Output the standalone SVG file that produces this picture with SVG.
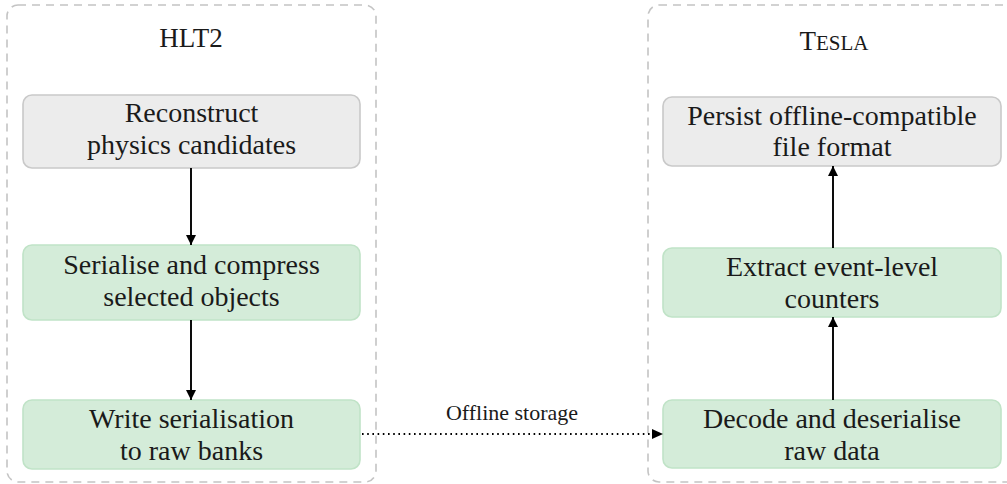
<svg xmlns="http://www.w3.org/2000/svg" width="1007" height="484" viewBox="0 0 1007 484">
<style>
.cont{fill:none;stroke:#c4c4c4;stroke-width:1.6;stroke-dasharray:8 6}
.gray{fill:#ececec;stroke:#c9c9c9;stroke-width:1.6}
.green{fill:#d4ecd9;stroke:#c0e3c7;stroke-width:1.6}
text{font-family:"Liberation Serif","Times New Roman",serif;fill:#1a1a1a;text-anchor:middle}
.t{font-size:28px}
.ttl{font-size:27px}
.lbl{font-size:22px}
.arr{fill:none;stroke:#000;stroke-width:1.9}
.dot{fill:none;stroke:#000;stroke-width:2;stroke-dasharray:1.6 3.6}
</style>
<defs>
<marker id="ah" viewBox="0 0 10 12" refX="10" refY="6" markerWidth="11" markerHeight="12" markerUnits="userSpaceOnUse" orient="auto">
<path d="M0,1 L10,6 L0,11 Z" fill="#000"/>
</marker>
</defs>
<g id="hlt2">
<rect class="cont" x="7" y="5" width="369" height="477" rx="11"/>
<text class="ttl" x="191" y="47">HLT2</text>
</g>
<g id="tesla">
<rect class="cont" x="648" y="5" width="380" height="477" rx="11"/>
<text class="ttl" x="834" y="50">T<tspan font-size="21">ESLA</tspan></text>
</g>
<g id="reconstruct">
<rect class="gray" x="23" y="95" width="337" height="73" rx="9"/>
<text class="t" x="191.5" y="122">Reconstruct</text>
<text class="t" x="191.5" y="154">physics candidates</text>
</g>
<g id="serialise">
<rect class="green" x="23" y="245" width="337" height="75" rx="9"/>
<text class="t" x="191.5" y="274">Serialise and compress</text>
<text class="t" x="191.5" y="306">selected objects</text>
</g>
<g id="write">
<rect class="green" x="23" y="400" width="337" height="69" rx="9"/>
<text class="t" x="191.5" y="428">Write serialisation</text>
<text class="t" x="191.5" y="460">to raw banks</text>
</g>
<g id="persist">
<rect class="gray" x="663" y="97" width="338" height="69" rx="9"/>
<text class="t" x="832" y="125">Persist offline-compatible</text>
<text class="t" x="832" y="156">file format</text>
</g>
<g id="extract">
<rect class="green" x="663" y="248" width="338" height="69" rx="9"/>
<text class="t" x="832" y="276">Extract event-level</text>
<text class="t" x="832" y="308">counters</text>
</g>
<g id="decode">
<rect class="green" x="663" y="400" width="338" height="68" rx="9"/>
<text class="t" x="832" y="428">Decode and deserialise</text>
<text class="t" x="832" y="460">raw data</text>
</g>
<g id="connectors">
<line class="arr" x1="191" y1="168" x2="191" y2="245" marker-end="url(#ah)"/>
<line class="arr" x1="191" y1="320" x2="191" y2="400" marker-end="url(#ah)"/>
<line class="arr" x1="833" y1="400" x2="833" y2="317" marker-end="url(#ah)"/>
<line class="arr" x1="833" y1="248" x2="833" y2="166" marker-end="url(#ah)"/>
<line class="dot" x1="362" y1="434" x2="652" y2="434"/>
<path d="M652,429 L663,434 L652,439 Z" fill="#000"/>
<text class="lbl" x="512" y="420">Offline storage</text>
</g>
</svg>
